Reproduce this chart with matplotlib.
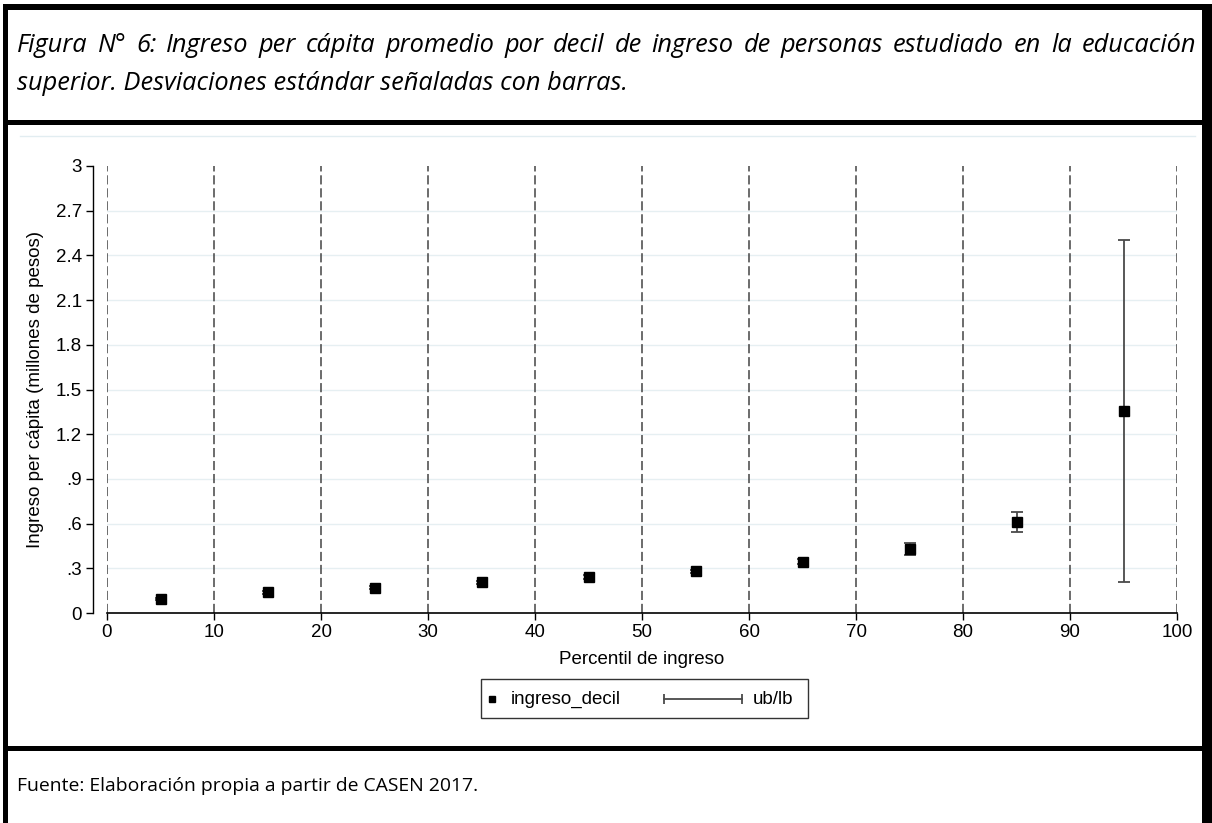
import matplotlib
matplotlib.use("Agg")
import matplotlib.pyplot as plt
from matplotlib.patches import Rectangle
from matplotlib.lines import Line2D

# datos por decil (ingreso per capita promedio, millones de pesos)
percentil = [5, 15, 25, 35, 45, 55, 65, 75, 85, 95]
ingreso = [0.095, 0.14, 0.17, 0.205, 0.24, 0.28, 0.345, 0.43, 0.61, 1.355]
desv = [0.008, 0.01, 0.008, 0.01, 0.012, 0.01, 0.015, 0.038, 0.068, 1.147]

yticks = [0, 0.3, 0.6, 0.9, 1.2, 1.5, 1.8, 2.1, 2.4, 2.7, 3]
ytick_labels = ['0', '.3', '.6', '.9', '1.2', '1.5', '1.8', '2.1', '2.4', '2.7', '3']
xticks = [0, 10, 20, 30, 40, 50, 60, 70, 80, 90, 100]

titulo1 = 'Figura N° 6: Ingreso per cápita promedio por decil de ingreso de personas estudiado en la educación'
titulo2 = 'superior. Desviaciones estándar señaladas con barras.'
fuente = 'Fuente: Elaboración propia a partir de CASEN 2017.'

W, H = 1212, 823
FONT = 'Liberation Sans'
FS = 13.5

fig = plt.figure(figsize=(W / 100, H / 100), dpi=100)
renderer = fig.canvas.get_renderer()

def fx(px):
    return px / W

def fy(py):
    return 1 - py / H

def caja(x0, y0, x1, y1, color='black'):
    fig.patches.append(Rectangle((fx(x0), fy(y1)), fx(x1) - fx(x0), fy(y0) - fy(y1),
                                 transform=fig.transFigure, color=color, lw=0))

###Marco de la tabla
caja(3, 4, 1212, 10)      # borde superior
caja(3, 4, 8, 823)        # borde izquierdo
caja(1202, 4, 1212, 823)  # borde derecho
caja(3, 120, 1212, 125)   # separador titulo
caja(3, 746, 1212, 751)   # separador fuente
# linea tenue de la region del grafico
fig.lines.append(Line2D([fx(20), fx(1195)], [fy(136), fy(136)], transform=fig.transFigure,
                        color='#e2edf1', lw=1))

###Titulo justificado
def ancho(t):
    return t.get_window_extent(renderer).width

tfont = dict(family='Open Sans', style='italic', color='black')
t2 = fig.text(fx(17), fy(83), titulo2, ha='left', va='center', fontsize=15, **tfont)
fs_t = 15 * 611 / ancho(t2)
t2.set_fontsize(fs_t)

palabras = titulo1.split(' ')
objs = [fig.text(0, fy(45), p, ha='left', va='center', fontsize=fs_t, **tfont) for p in palabras]
anchos = [ancho(o) for o in objs]
hueco = (1196 - 17 - sum(anchos)) / (len(objs) - 1)
x = 17
for o, w in zip(objs, anchos):
    o.set_x(fx(x))
    x += w + hueco

tf = fig.text(fx(17), fy(786), fuente, ha='left', va='center', fontsize=15,
              family='Open Sans', color='black')
tf.set_fontsize(15 * 463 / ancho(tf))

###Grafico
ax = fig.add_axes([fx(107), fy(613), fx(1177) - fx(107), fy(166) - fy(613)])
ax.set_xlim(0, 100)
ax.set_ylim(0, 3)

for y in yticks[1:-1]:
    ax.axhline(y, color='#e6eff2', lw=1, zorder=0)
for xv in xticks:
    ax.axvline(xv, color='#444444', lw=1.1, dashes=(6, 2.5), zorder=1)

ax.errorbar(percentil, ingreso, yerr=desv, fmt='none', ecolor='#4a4a4a', elinewidth=1.3,
            capsize=4, capthick=1.3, zorder=3, clip_on=False)
ax.plot(percentil, ingreso, linestyle='none', marker='s', markersize=7, color='black',
        zorder=4, clip_on=False)

for s in ['top', 'right']:
    ax.spines[s].set_visible(False)
ax.spines['left'].set_position(('outward', 10))
ax.spines['left'].set_linewidth(1)
ax.spines['bottom'].set_linewidth(1.2)

ax.set_yticks(yticks)
ax.set_yticklabels(ytick_labels)
ax.set_xticks(xticks)
ax.tick_params(axis='both', length=5, width=1, colors='black', labelsize=FS, pad=3)
for lab in ax.get_xticklabels() + ax.get_yticklabels():
    lab.set_family(FONT)

ax.set_xlabel('Percentil de ingreso', fontsize=FS, family=FONT)
ax.xaxis.set_label_coords(0.5, (613 - 659) / 447)
ax.xaxis.label.set_va('center')
ax.set_ylabel('Ingreso per cápita (millones de pesos)', fontsize=FS, family=FONT)
ax.yaxis.set_label_coords((36 - 107) / 1070, 0.5)
ax.yaxis.label.set_va('center')

###Leyenda
fig.patches.append(Rectangle((fx(481), fy(718)), fx(808) - fx(481), fy(679) - fy(718),
                             transform=fig.transFigure, fill=False, ec='#333333', lw=1))
fig.lines.append(Line2D([fx(492)], [fy(699)], transform=fig.transFigure, marker='s',
                        markersize=5, color='black', linestyle='none'))
fig.text(fx(511), fy(699), 'ingreso_decil', ha='left', va='center', fontsize=FS, family=FONT)
fig.lines.append(Line2D([fx(664), fx(742)], [fy(699), fy(699)], transform=fig.transFigure,
                        color='#4a4a4a', lw=1.3, marker='|', markersize=7, markeredgewidth=1.3))
fig.text(fx(753), fy(699), 'ub/lb', ha='left', va='center', fontsize=FS, family=FONT)

fig.savefig('out.png', dpi=100, facecolor='white')
